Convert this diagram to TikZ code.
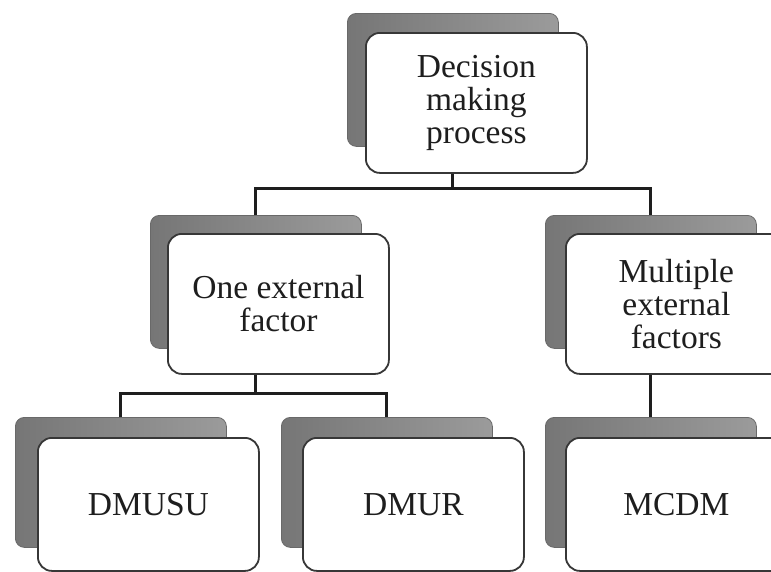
\documentclass[tikz,border=0pt]{standalone}
\usepackage{fontspec}
\setmainfont{Liberation Serif}
\definecolor{shadeL}{RGB}{118,118,118}
\definecolor{shadeR}{RGB}{155,155,155}
\definecolor{shadeE}{RGB}{105,105,105}
\definecolor{edge}{RGB}{55,55,55}
\definecolor{ink}{RGB}{30,30,30}
\begin{document}
\begin{tikzpicture}[x=1pt,y=-1pt,
  shadowbox/.style={rectangle, rounded corners=9pt, minimum width=211pt,
    minimum height=133pt, anchor=north west, inner sep=0pt,
    left color=shadeL, right color=shadeR, draw=shadeE, line width=0.8pt},
  frontbox/.style={rectangle, rounded corners=14pt, minimum width=221pt,
    minimum height=140pt, anchor=north west, inner sep=0pt,
    fill=white, draw=edge, line width=1.8pt, text=ink, align=center,
    font=\fontsize{33.5}{33}\selectfont},
  conn/.style={draw=ink, line width=3pt}]

% page area
\useasboundingbox (0,0) rectangle (771,571);
\fill[white] (0,0) rectangle (771,571);
\clip (0,0) rectangle (771,571);

% level 0
\node[shadowbox] (topS) at (347,13) {};
\node[frontbox]  (topF) at (365,32) {Decision\\making\\process};

% level 1
\node[shadowbox] (oneS)  at (150,215) {};
\node[shadowbox] (multS) at (545,215) {};

% level 2
\node[shadowbox, minimum height=130pt] (dmusuS) at (15,417) {};
\node[shadowbox, minimum height=130pt] (dmurS)  at (281,417) {};
\node[shadowbox, minimum height=130pt] (mcdmS)  at (545,417) {};

% bus lines
\coordinate (busA) at (0,188);
\coordinate (busB) at (0,393);

\draw[conn] (topS.south |- topF.south) -- (topS.south |- busA);
\draw[conn] (oneS.north) -- (oneS.north |- busA) -- (multS.north |- busA) -- (multS.north);

% front boxes of level 1
\node[frontbox] (oneF)  at (167,233) {One external\\factor};
\node[frontbox] (multF) at (565,233) {Multiple\\external\\factors};

\draw[conn] (oneS.south |- oneF.south) -- (oneS.south |- busB);
\draw[conn] (dmusuS.north) -- (dmusuS.north |- busB) -- (dmurS.north |- busB) -- (dmurS.north);
\draw[conn] (mcdmS.north |- multF.south) -- (mcdmS.north);

% front boxes of level 2
\node[frontbox, minimum height=133pt] (dmusuF) at (37,437)  {DMUSU};
\node[frontbox, minimum height=133pt] (dmurF)  at (302,437) {DMUR};
\node[frontbox, minimum height=133pt] (mcdmF)  at (565,437) {MCDM};
\end{tikzpicture}
\end{document}
